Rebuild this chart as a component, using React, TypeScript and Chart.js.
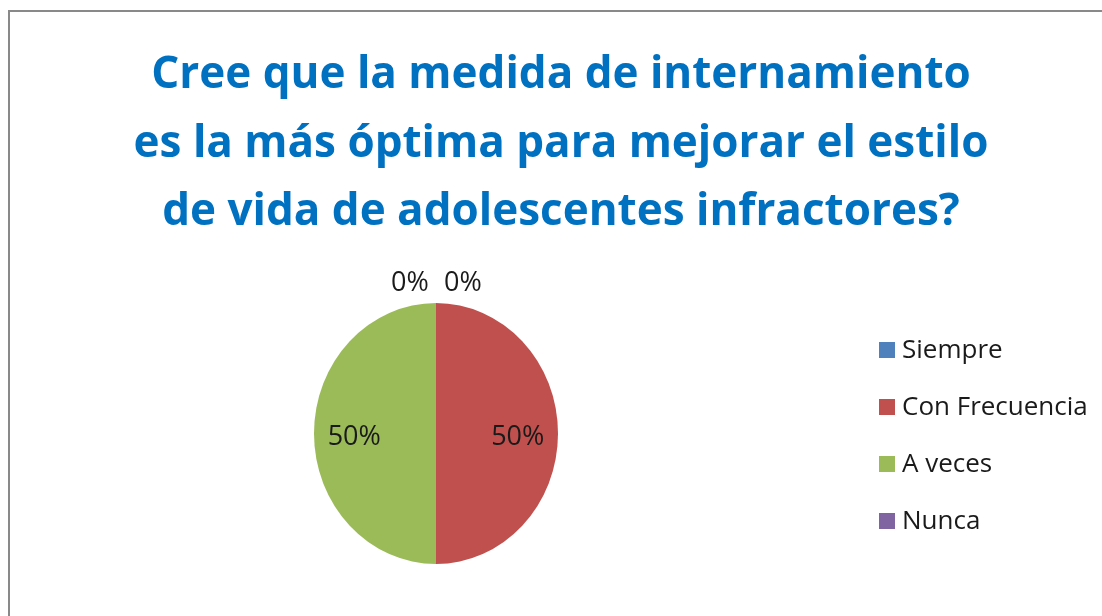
import React, { useEffect, useRef } from "react";
import { Chart, registerables } from "chart.js";

Chart.register(...registerables);

const titleLines = [
  "Cree que la medida de internamiento",
  "es la más óptima para mejorar el estilo",
  "de vida de adolescentes infractores?",
];
const categories = ["Siempre", "Con Frecuencia", "A veces", "Nunca"];
const percentValues = [0, 50, 50, 0];
const sliceColors = ["#4F81BD", "#C0504D", "#9BBB59", "#8064A2"];

const FONT = "'Open Sans', 'Noto Sans', sans-serif";
const SCALE_Y = 1.07;

const decorPlugin = {
  id: "decor",
  beforeDraw(chart: any) {
    const ctx = chart.ctx;
    ctx.save();
    ctx.fillStyle = "#ffffff";
    ctx.fillRect(0, 0, chart.width, chart.height);
    ctx.strokeStyle = "#898989";
    ctx.lineWidth = 2;
    ctx.strokeRect(9, 11, chart.width + 20, chart.height + 20);
    ctx.restore();
  },
  beforeDatasetsDraw(chart: any) {
    const ctx = chart.ctx;
    const a = chart.chartArea;
    const cy = (a.top + a.bottom) / 2;
    ctx.save();
    ctx.translate(0, cy);
    ctx.scale(1, SCALE_Y);
    ctx.translate(0, -cy);
  },
  afterDatasetsDraw(chart: any) {
    chart.ctx.restore();
  },
  afterDraw(chart: any) {
    const ctx = chart.ctx;
    ctx.save();
    // Title
    ctx.fillStyle = "#0070C0";
    ctx.font = `bold 44px ${FONT}`;
    ctx.textAlign = "center";
    ctx.textBaseline = "alphabetic";
    const baselines = [88, 157, 225];
    titleLines.forEach((t, i) => ctx.fillText(t, 561, baselines[i]));

    // Legend
    const labels: string[] = chart.data.labels;
    const colors: string[] = chart.data.datasets[0].backgroundColor;
    ctx.font = `26px ${FONT}`;
    ctx.textAlign = "left";
    ctx.textBaseline = "middle";
    labels.forEach((l, i) => {
      const cy = 350 + i * 57;
      ctx.fillStyle = colors[i];
      ctx.fillRect(879, cy - 8, 16, 16);
      ctx.fillStyle = "#1a1a1a";
      ctx.fillText(l, 902, cy + 1);
    });

    // Data labels
    const meta = chart.getDatasetMeta(0);
    const data: number[] = chart.data.datasets[0].data;
    ctx.font = `27px ${FONT}`;
    ctx.textAlign = "center";
    ctx.textBaseline = "middle";
    ctx.fillStyle = "#1a1a1a";
    let zeroCount = 0;
    meta.data.forEach((arc: any, i: number) => {
      const v = data[i];
      const txt = `${Math.round(v)}%`;
      const { x, y, startAngle, endAngle, outerRadius } = arc.getProps(
        ["x", "y", "startAngle", "endAngle", "outerRadius"],
        true
      );
      const mid = (startAngle + endAngle) / 2;
      if (v > 0) {
        const r = outerRadius * 0.67;
        ctx.fillText(txt, x + Math.cos(mid) * r, y + Math.sin(mid) * r * SCALE_Y + 3.5);
      } else {
        const r = outerRadius * SCALE_Y + 20;
        const dx = zeroCount === 0 ? 27 : -26;
        zeroCount++;
        ctx.fillText(txt, x + Math.cos(mid) * r + dx, y + Math.sin(mid) * r);
      }
    });
    ctx.restore();
  },
};

export default function App() {
  const ref = useRef<HTMLCanvasElement>(null);
  useEffect(() => {
    document.body.style.margin = "0";
    const chart = new Chart(ref.current!, {
      type: "pie",
      data: {
        labels: categories,
        datasets: [
          {
            data: percentValues,
            backgroundColor: sliceColors,
            borderWidth: 0,
          },
        ],
      },
      options: {
        animation: false,
        responsive: false,
        layout: { padding: { left: 314, right: 544, top: 311.5, bottom: 60.5 } },
        plugins: {
          legend: { display: false },
          title: { display: false },
          tooltip: { enabled: false },
        },
      },
      plugins: [decorPlugin],
    });
    return () => chart.destroy();
  }, []);
  return (
    <div style={{ width: 1102, height: 616, overflow: "hidden" }}>
      <canvas ref={ref} width={1102} height={616} style={{ display: "block" }} />
    </div>
  );
}
